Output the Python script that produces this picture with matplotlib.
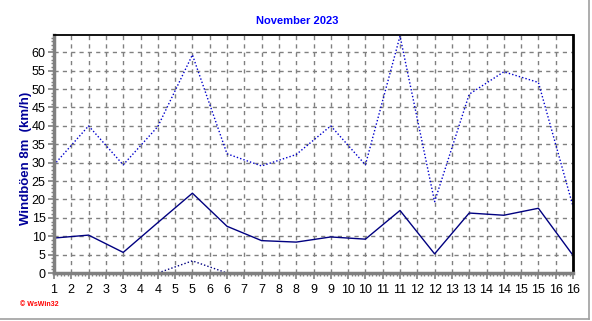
import matplotlib
matplotlib.use("Agg")
import matplotlib.pyplot as plt
from matplotlib.ticker import MultipleLocator

days = list(range(1, 17))
gust_mean = [9.5, 10.3, 5.6, 13.7, 21.7, 12.7, 8.8, 8.4, 9.8, 9.2, 17.0, 5.2, 16.3, 15.7, 17.6, 4.8]
gust_max = [29.4, 40.0, 29.4, 39.8, 59.3, 32.4, 29.1, 32.2, 40.0, 29.4, 64.4, 19.4, 48.6, 54.7, 51.8, 18.1]
gust_min = [0, 0, 0, 0, 3.3, 0, 0, 0, 0, 0, 0, 0, 0, 0, 0, 0]
tick_pos = [1 + 0.5 * i for i in range(31)]
tick_labels = ["1", "2", "2", "3", "3", "4", "4", "5", "5", "6", "6", "7", "7", "8", "8",
               "9", "9", "10", "10", "11", "11", "12", "12", "13", "13", "14", "14",
               "15", "15", "16", "16"]
title = "November 2023"
ylabel = "Windböen 8m  (km/h)"

plt.rcParams['font.family'] = ['Liberation Sans', 'DejaVu Sans']

W, H = 592, 321
fig = plt.figure(figsize=(W / 100, H / 100), dpi=100)
fig.patch.set_facecolor("white")
ax = fig.add_axes([54 / W, 1 - 273 / H, (573 - 54) / W, (273 - 35) / H])

ax.plot(days, gust_max, color="#0000CC", lw=1.0, ls=(0, (1, 1.5)))
ax.plot(days, gust_mean, color="#000080", lw=1.0)
ax.plot(days, gust_min, color="#000080", lw=1.0, ls=(0, (1, 1.5)))

ax.set_xlim(1, 16)
ax.set_ylim(0, 64.7)
ax.set_xticks(tick_pos)
ax.set_xticklabels(tick_labels)
ax.yaxis.set_major_locator(MultipleLocator(5))
ax.yaxis.set_minor_locator(MultipleLocator(1))
ax.xaxis.set_minor_locator(MultipleLocator(0.1))
ax.grid(True, which="major", color="#808080", ls=(0, (3, 3)), lw=1.0)
ax.tick_params(axis="both", which="major", labelsize=9, length=4, width=1.2, color="#808080", pad=2)
ax.tick_params(axis="both", which="minor", length=2, width=1, color="#808080")
ax.tick_params(axis="x", pad=4)

for s in ("left", "bottom"):
    ax.spines[s].set_color("#808080")
    ax.spines[s].set_linewidth(2.5)
for s in ("right", "top"):
    ax.spines[s].set_color("black")
    ax.spines[s].set_linewidth(1.3)
ax.spines["right"].set_linewidth(2.0)

fig.text(297 / W, 1 - 21 / H, title, color="#0000FF", fontsize=8, fontweight="bold",
         ha="center", va="center")
fig.text(26 / W, 1 - 158 / H, ylabel, color="#000099", fontsize=9.5, fontweight="bold",
         ha="center", va="center", rotation=90)
fig.text(20 / W, 1 - 304 / H, "\u00a9 WsWin32", color="#FF0000", fontsize=5, fontweight="bold",
         ha="left", va="center")

# figure frame lines (right and bottom gray border)
fig.add_artist(plt.Line2D([588.5 / W, 588.5 / W], [1 - 319 / H, 1], color="#A0A0A0", lw=1.2,
                          transform=fig.transFigure))
fig.add_artist(plt.Line2D([0, 588.5 / W], [1 - 319 / H, 1 - 319 / H], color="#A0A0A0", lw=1.2,
                          transform=fig.transFigure))

fig.savefig("out.png", dpi=100, facecolor="white")
